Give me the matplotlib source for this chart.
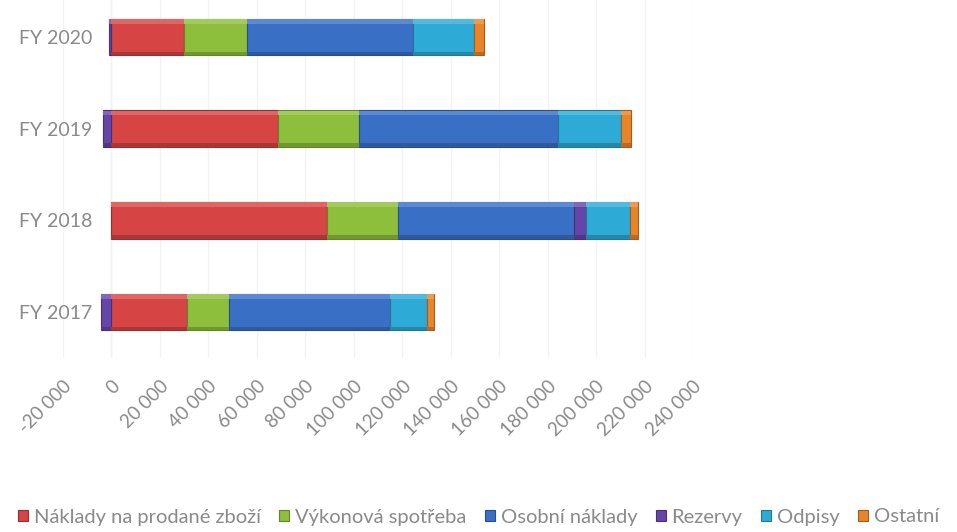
import numpy as np
import matplotlib
matplotlib.use("Agg")
import matplotlib.pyplot as plt
import matplotlib.colors as mcolors
from matplotlib.patches import Patch

plt.rcParams['font.family'] = ['Lato', 'DejaVu Sans']

# --------------------------------
years = ['FY 2017', 'FY 2018', 'FY 2019', 'FY 2020']
naklady_zbozi = [31300, 89100, 68900, 30100]
vykonova_spotreba = [17300, 29300, 33400, 26000]
osobni_naklady = [66400, 72600, 82100, 68500]
rezervy = [-4500, 4900, -3300, -1200]
odpisy = [15300, 18100, 26000, 25200]
ostatni = [2900, 3300, 4100, 4100]

series = [
    ('Náklady na prodané zboží', naklady_zbozi, '#D64444'),
    ('Výkonová spotřeba', vykonova_spotreba, '#8DBE3C'),
    ('Osobní náklady', osobni_naklady, '#3A6FC6'),
    ('Rezervy', rezervy, '#6546A8'),
    ('Odpisy', odpisy, '#2EAAD6'),
    ('Ostatní', ostatni, '#E8842A'),
]
xticks = np.arange(-20000, 240001, 20000)

# --------------------------------
def shade(color, f):
    r, g, b = mcolors.to_rgb(color)
    if f > 0:
        return (r + (1 - r) * f, g + (1 - g) * f, b + (1 - b) * f)
    return (r * (1 + f), g * (1 + f), b * (1 + f))

def fmt(v):
    return '{:,}'.format(int(v)).replace(',', ' ')

# --------------------------------
fig = plt.figure(figsize=(9.57, 5.32), dpi=100)
ax = fig.add_axes([63 / 957, 1 - 358 / 532, 630 / 957, 367 / 532])

y = np.arange(len(years))
h = 0.40
pos_left = np.zeros(len(years))
neg_left = np.zeros(len(years))
handles = []
for name, vals, color in series:
    vals = np.array(vals, dtype=float)
    left = np.where(vals >= 0, pos_left, neg_left)
    ax.barh(y, vals, height=h, left=left, color=color,
            edgecolor=shade(color, -0.3), linewidth=0.8, zorder=3)
    # bevel: soft light strip on top, darker strip at the bottom
    ax.barh(y + h / 2 - 0.03, vals, height=0.05, left=left,
            color=shade(color, 0.18), linewidth=0, zorder=4)
    ax.barh(y - h / 2 + 0.02, vals, height=0.04, left=left,
            color=shade(color, -0.2), linewidth=0, zorder=4)
    pos_left += np.where(vals >= 0, vals, 0)
    neg_left += np.where(vals < 0, vals, 0)
    handles.append(Patch(facecolor=color, edgecolor=shade(color, -0.3), linewidth=0.8, label=name))

ax.set_xlim(-20000, 240000)
ax.set_ylim(-0.5, 3.5)
ax.set_xticks(xticks)
ax.set_xticklabels([fmt(v) for v in xticks], rotation=45, ha='right',
                   rotation_mode='anchor', fontsize=13.5, color='#8a8a8a')
ax.set_yticks(y)
ax.set_yticklabels(years, fontsize=14, color='#8a8a8a')
# category labels sit next to the zero line, not the left edge
ax.tick_params(axis='x', length=0, pad=14)
ax.tick_params(axis='y', length=0, pad=-21)
for s in ax.spines.values():
    s.set_visible(False)
ax.grid(axis='x', color='#f3f3f3', linewidth=1, zorder=0)
ax.axvline(0, color='#e6e9f0', linewidth=1, zorder=1)

fig.legend(handles=handles, loc='center', bbox_to_anchor=(0.5, 15 / 532), ncol=6,
           frameon=False, fontsize=14.5, labelcolor='#8a8a8a',
           handlelength=0.5, handleheight=0.5, handletextpad=0.3, columnspacing=0.9)

fig.savefig('out.png', dpi=100)
